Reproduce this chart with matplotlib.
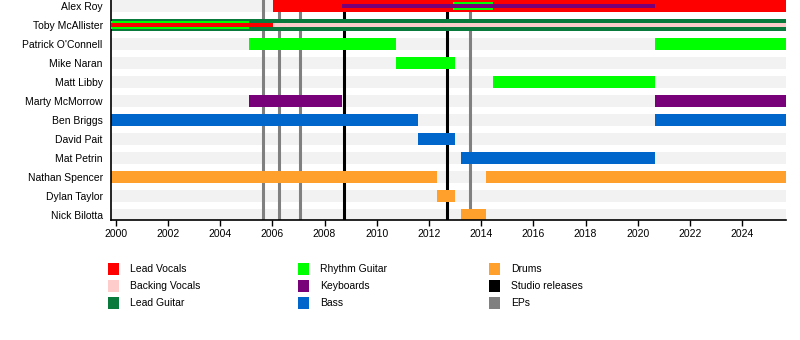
import matplotlib
matplotlib.use("Agg")
import matplotlib.pyplot as plt
from matplotlib.patches import Rectangle

plt.rcParams['font.family'] = ['Liberation Sans', 'DejaVu Sans']

members = ["Alex Roy", "Toby McAllister", "Patrick O'Connell", "Mike Naran",
           "Matt Libby", "Marty McMorrow", "Ben Briggs", "David Pait",
           "Mat Petrin", "Nathan Spencer", "Dylan Taylor", "Nick Bilotta"]

roles = ["Lead Vocals", "Backing Vocals", "Lead Guitar", "Rhythm Guitar",
         "Keyboards", "Bass", "Drums"]
role_colors = ["#ff0000", "#ffcccc", "#0a7a3c", "#00ff00",
               "#780078", "#0066cc", "#ffa02c"]

timeline_start = 1999.82
timeline_end = 2025.67

# Primary role of each member per period: (member, role, start, end)
main_spans = [
    ("Alex Roy", "Lead Vocals", 2006.04, timeline_end),
    ("Toby McAllister", "Lead Guitar", timeline_start, timeline_end),
    ("Patrick O'Connell", "Rhythm Guitar", 2005.12, 2010.74),
    ("Patrick O'Connell", "Rhythm Guitar", 2020.66, timeline_end),
    ("Mike Naran", "Rhythm Guitar", 2010.74, 2013.00),
    ("Matt Libby", "Rhythm Guitar", 2014.44, 2020.66),
    ("Marty McMorrow", "Keyboards", 2005.12, 2008.66),
    ("Marty McMorrow", "Keyboards", 2020.66, timeline_end),
    ("Ben Briggs", "Bass", timeline_start, 2011.58),
    ("Ben Briggs", "Bass", 2020.66, timeline_end),
    ("David Pait", "Bass", 2011.58, 2013.00),
    ("Mat Petrin", "Bass", 2013.23, 2020.66),
    ("Nathan Spencer", "Drums", timeline_start, 2012.30),
    ("Nathan Spencer", "Drums", 2014.19, timeline_end),
    ("Dylan Taylor", "Drums", 2012.30, 2013.00),
    ("Nick Bilotta", "Drums", 2013.23, 2014.20),
]

# Additional roles, drawn as narrower bars on top
second_spans = [
    ("Alex Roy", "Rhythm Guitar", 2012.93, 2014.44),
    ("Toby McAllister", "Rhythm Guitar", timeline_start, 2005.12),
]
third_spans = [
    ("Alex Roy", "Keyboards", 2008.66, 2020.66),
    ("Toby McAllister", "Lead Vocals", timeline_start, 2006.04),
    ("Toby McAllister", "Backing Vocals", 2006.04, timeline_end),
]

studio_releases = [2008.76, 2012.68]
ep_releases = [2005.66, 2006.27, 2007.07, 2013.57]

year_ticks = list(range(2000, 2025, 2))

# ---------------------------------------------------------------------------
W, H = 800, 340
fig = plt.figure(figsize=(W / 100, H / 100), dpi=100)
ax_left, ax_right, ax_top, ax_bottom = 111, 785.7, 0, 220.3
ax = fig.add_axes([ax_left / W, 1 - ax_bottom / H,
                   (ax_right - ax_left) / W, (ax_bottom - ax_top) / H])

color_of = dict(zip(roles, role_colors))
row_of = {m: i for i, m in enumerate(members)}

h_full, h_mid, h_thin = 0.63, 0.40, 0.21

# light background band for every row
ax.barh(range(len(members)), timeline_end - timeline_start, left=timeline_start,
        height=h_full, color="#f2f2f2", zorder=0, linewidth=0)

for d in ep_releases:
    ax.axvline(d, color="#808080", lw=2.2, zorder=1)
for d in studio_releases:
    ax.axvline(d, color="black", lw=2.2, zorder=1)

for spans, h, z in ((main_spans, h_full, 2), (second_spans, h_mid, 3),
                    (third_spans, h_thin, 4)):
    for member, role, s, e in spans:
        ax.barh(row_of[member], e - s, left=s, height=h,
                color=color_of[role], zorder=z, linewidth=0)

ax.set_xlim(timeline_start, timeline_end)
ax.set_ylim(11.29, -0.305)
ax.set_yticks(range(len(members)))
ax.set_yticklabels(members, fontsize=7.5)
ax.set_xticks(year_ticks)
ax.set_xticklabels([str(y) for y in year_ticks], fontsize=7.5)
ax.tick_params(axis="y", length=0, pad=6)
ax.tick_params(axis="x", length=4, width=1, pad=2)
for side in ("top", "right"):
    ax.spines[side].set_visible(False)
for side in ("left", "bottom"):
    ax.spines[side].set_linewidth(1.2)

# legend in three columns
legend_items = [(r, c) for r, c in zip(roles, role_colors)] + \
               [("Studio releases", "black"), ("EPs", "#808080")]
col_x = [108, 298, 489]
row_y = [269, 286, 303]
for k, (label, col) in enumerate(legend_items):
    cx = col_x[k // 3]
    cy = row_y[k % 3]
    fig.add_artist(Rectangle((cx / W, 1 - (cy + 6) / H), 11 / W, 12 / H,
                             transform=fig.transFigure, color=col, lw=0))
    fig.text((cx + 22) / W, 1 - cy / H, label, fontsize=7.5, va="center")

fig.savefig("out.png", dpi=100)
